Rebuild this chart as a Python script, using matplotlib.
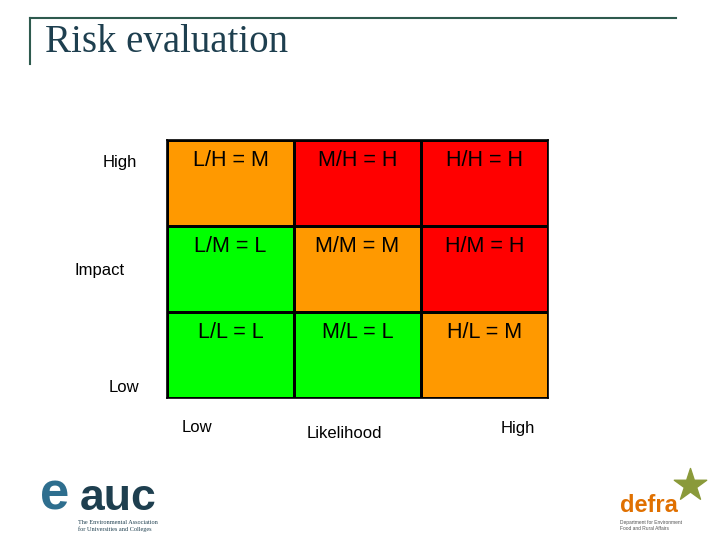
import numpy as np
import matplotlib
matplotlib.use("Agg")
import matplotlib.pyplot as plt
from matplotlib.colors import ListedColormap

# risk matrix: rows top->bottom (impact High..Low), cols likelihood Low..High
cell_text = [["L/H = M", "M/H = H", "H/H = H"],
             ["L/M = L", "M/M = M", "H/M = H"],
             ["L/L = L", "M/L = L", "H/L = M"]]
levels = [[1, 2, 2],
          [0, 1, 2],
          [0, 0, 1]]          # 0 = L, 1 = M, 2 = H
level_colors = ["#00FF00", "#FF9900", "#FF0000"]
likelihood_ticks = ["Low", "Likelihood", "High"]
impact_ticks = ["High", "Impact", "Low"]

plt.rcParams["font.family"] = ["Liberation Sans", "DejaVu Sans"]
fig = plt.figure(figsize=(7.2, 5.4), dpi=100)
W, H = 720, 540

# frame lines + title
bg = fig.add_axes([0, 0, 1, 1]); bg.set_xlim(0, W); bg.set_ylim(H, 0); bg.axis("off")
bg.plot([30, 676], [18, 18], color="#2E5A4E", lw=1.5)
bg.plot([30, 30], [18, 64], color="#2E5A4E", lw=1.5)
bg.text(45, 52, "Risk evaluation", family="Liberation Serif", fontsize=28, color="#1E3F4F")

# matrix
ax = fig.add_axes([167 / W, 1 - 398 / H, 381 / W, 258 / H])
lv = np.array(levels)
ax.pcolormesh(np.arange(4), np.arange(4), lv[::-1], cmap=ListedColormap(level_colors),
              vmin=-0.5, vmax=2.5, edgecolors="black", linewidth=0.8)
for i, row in enumerate(cell_text):
    for j, t in enumerate(row):
        ax.text(j + 0.5, 2.76 - i, t, ha="center", va="center", fontsize=15.5)
ax.set_xlim(0, 3); ax.set_ylim(0, 3)
ax.set_xticks([]); ax.set_yticks([])
for s in ax.spines.values():
    s.set_linewidth(1.2)

# axis labels
for t, (x, y) in zip(impact_ticks, [(120, 162), (100, 270), (124, 388)]):
    bg.text(x, y, t, ha="center", va="center", fontsize=12)
for t, (x, y) in zip(likelihood_ticks, [(197, 428), (344, 433), (518, 428)]):
    bg.text(x, y, t, ha="center", va="center", fontsize=12)

# logos (approximated as text)
bg.text(40, 510, "e", fontsize=38, color="#2E6E8E", fontweight="bold", va="baseline")
bg.text(80, 510, "auc", fontsize=32, color="#1E3F4F", fontweight="bold", va="baseline")
bg.text(78, 520, "The Environmental Association\nfor Universities and Colleges",
        fontsize=4.5, color="#1E3F4F", va="top", family="Liberation Serif")
bg.text(620, 512, "defra", fontsize=17, color="#E07000", fontweight="bold", va="baseline")
bg.text(620, 520, "Department for Environment\nFood and Rural Affairs",
        fontsize=3.5, color="#555555", va="top")
bg.scatter([690], [485], s=600, color="#8A9A3A", marker="*")

fig.savefig("out.png", dpi=100)
